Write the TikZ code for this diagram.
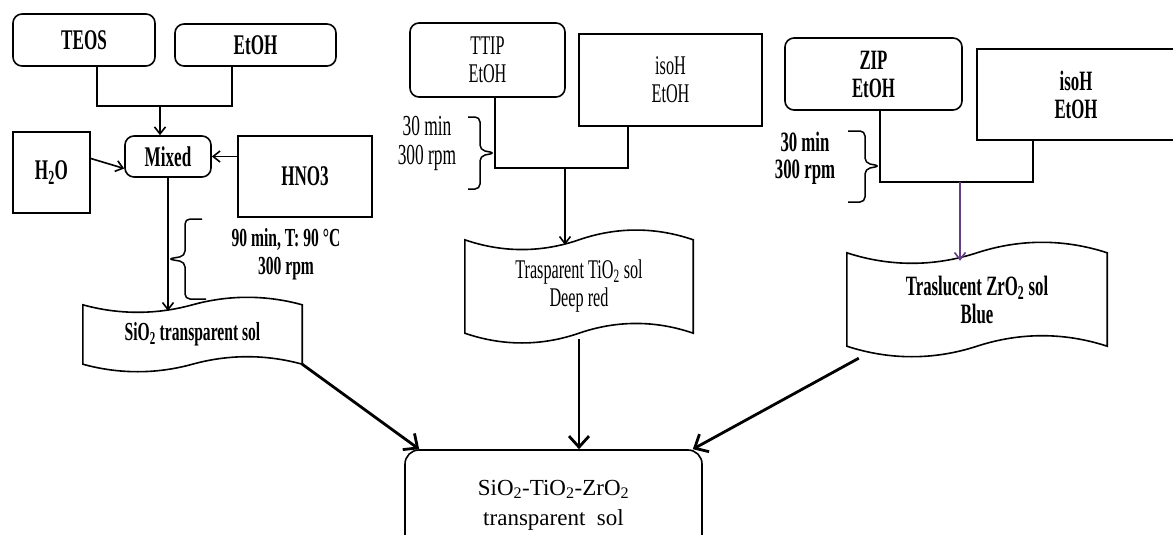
\documentclass[tikz,border=0pt]{standalone}
\usepackage{fontspec}
\setmainfont{Liberation Serif}[FakeStretch=0.6]
\newfontfamily\finalfont{Liberation Serif}
\usetikzlibrary{arrows.meta,calc}

\definecolor{zrviolet}{RGB}{100,60,130}

\newcommand{\boxtxt}{\fontsize{27}{28}\selectfont}
\newcommand{\lefttxt}{\fontsize{28.5}{30}\selectfont\bfseries}
\newcommand{\zrtxt}{\fontsize{28}{28}\selectfont\bfseries}

% contorno ondulado (fita) em volta de um nó retangular
\newcommand{\solwave}[2]{%
  \draw[line width=1.6pt]
    (#1.north west)
      .. controls ($(#1.north west)!0.33!(#1.north)+(0,#2)$) and ($(#1.north west)!0.67!(#1.north)+(0,#2)$) .. (#1.north)
      .. controls ($(#1.north)!0.33!(#1.north east)+(0,-#2)$) and ($(#1.north)!0.67!(#1.north east)+(0,-#2)$) .. (#1.north east)
      -- (#1.south east)
      .. controls ($(#1.south east)!0.33!(#1.south)+(0,-#2)$) and ($(#1.south east)!0.67!(#1.south)+(0,-#2)$) .. (#1.south)
      .. controls ($(#1.south)!0.33!(#1.south west)+(0,#2)$) and ($(#1.south)!0.67!(#1.south west)+(0,#2)$) .. (#1.south west)
      -- cycle;}

\begin{document}
\begin{tikzpicture}[x=1pt, y=-1pt,
    rbox/.style={draw, line width=1.6pt, rounded corners=9pt, align=center, font=\boxtxt, inner sep=0pt},
    sbox/.style={draw, line width=1.6pt, align=center, font=\boxtxt, inner sep=0pt},
    solbox/.style={align=center, font=\boxtxt, inner sep=0pt},
    line/.style={line width=1.6pt},
    brc/.style={line width=1.5pt, rounded corners=5pt},
    arr/.style={-{Straight Barb[length=7pt,width=11pt]}, line width=1.6pt},
    bigarr/.style={-{Straight Barb[length=11pt,width=20pt]}, line width=2.8pt}]

    % 1. MOLDURA
    \useasboundingbox (0,0) rectangle (1173,535);

    % ==========================================
    % 2. SOL DE SiO2
    % ==========================================
    \node[rbox, minimum width=142pt, minimum height=52pt, font=\lefttxt] (teos) at (84,40) {TEOS};
    \node[rbox, minimum width=161pt, minimum height=42pt, font=\lefttxt] (etoh) at (255.5,45) {EtOH};
    \node[rbox, minimum width=86pt, minimum height=41pt, font=\lefttxt] (mixed) at (168,156.5) {Mixed};
    \node[sbox, minimum width=77pt, minimum height=81pt, font=\lefttxt] (h2o) at (51.5,172.5) {H\textsubscript{2}O};
    \node[sbox, minimum width=134pt, minimum height=81pt, font=\lefttxt] (hno3) at (305,176.5) {HNO3};
    \node[solbox, minimum width=219pt, minimum height=59pt, font=\fontsize{26}{26}\selectfont\bfseries] (sisol) at (192.5,334.5) {SiO\textsubscript{2} transparent sol};
    \solwave{sisol}{10}

    \coordinate (sij) at (160,106);
    \draw[line] ([xshift=13pt]teos.south) |- (sij) -| ([xshift=-23.5pt]etoh.south);
    \draw[arr] (sij) -- (sij |- mixed.north);
    \draw[arr] ([yshift=14pt]h2o.east) -- ([yshift=-12pt]mixed.west);
    \draw[arr] (hno3.west |- mixed.east) -- (mixed.east);
    \draw[arr] (mixed.south) -- ($(mixed.south |- sisol.north)+(0,6)$);

    % chave e condições
    \draw[brc] (202,219) -- (185,219) -- (185,256) -- (168,259) -- (185,262) -- (185,299) -- (206,299);
    \node[align=center, font=\fontsize{26}{28}\selectfont\bfseries] (silbl) at (286,254) {90 min, T: 90 °C\\300 rpm};

    % ==========================================
    % 3. SOL DE TiO2
    % ==========================================
    \node[rbox, minimum width=155pt, minimum height=74pt] (ttip) at (487.5,60) {TTIP\\EtOH};
    \node[sbox, minimum width=183pt, minimum height=92pt] (isoh1) at (670.5,80) {isoH\\EtOH};
    \node[solbox, minimum width=228pt, minimum height=93pt] (tisol) at (579,286.5) {Trasparent TiO\textsubscript{2} sol\\Deep red};
    \solwave{tisol}{13}

    \coordinate (tij) at (565,168);
    \draw[line] ([xshift=7.5pt]ttip.south) |- (tij) -| ([xshift=-42.5pt]isoh1.south);
    \draw[arr] (tij) -- ($(tij |- tisol.north)+(0,5)$);

    \draw[brc] (468,117) -- (480,117) -- (480,150) -- (495,153) -- (480,156) -- (480,189) -- (468,189);
    \node[align=center, font=\fontsize{29}{29}\selectfont] (tilbl) at (427,143) {30 min\\300 rpm};

    % ==========================================
    % 4. SOL DE ZrO2
    % ==========================================
    \node[rbox, minimum width=177pt, minimum height=72pt, font=\zrtxt] (zip) at (873.5,74) {ZIP\\EtOH};
    \node[sbox, minimum width=198pt, minimum height=91pt, font=\zrtxt] (isoh2) at (1076,94.5) {isoH\\EtOH};
    \node[solbox, minimum width=260pt, minimum height=93pt, font=\zrtxt] (zrsol) at (977,299.5) {Traslucent ZrO\textsubscript{2} sol\\Blue};
    \solwave{zrsol}{14}

    \coordinate (zrj) at (960,182);
    \draw[line] ([xshift=6.5pt]zip.south) |- (zrj) -| ([xshift=-43pt]isoh2.south);
    \draw[arr, zrviolet] (zrj) -- ($(zrj |- zrsol.north)+(0,8)$);

    \draw[brc] (848,131) -- (865,131) -- (865,163) -- (880,166) -- (865,169) -- (865,202) -- (848,202);
    \node[align=center, font=\fontsize{28}{27}\selectfont\bfseries] (zrlbl) at (805,158) {30 min\\300 rpm};

    % ==========================================
    % 5. SOL FINAL
    % ==========================================
    \node[rbox, minimum width=297pt, minimum height=110pt, rounded corners=14pt, font=\finalfont\fontsize{23}{30}\selectfont] (final) at (553.5,505) {SiO\textsubscript{2}-TiO\textsubscript{2}-ZrO\textsubscript{2}\\transparent\ \ sol};

    \draw[bigarr] (sisol.south east) -- ([xshift=15pt]final.north west);
    \draw[bigarr] ($(tisol.south)+(0,6)$) -- (tisol.south |- final.north);
    \draw[bigarr] ($(zrsol.south west)+(12,12)$) -- ([xshift=-10pt]final.north east);

\end{tikzpicture}
\end{document}
